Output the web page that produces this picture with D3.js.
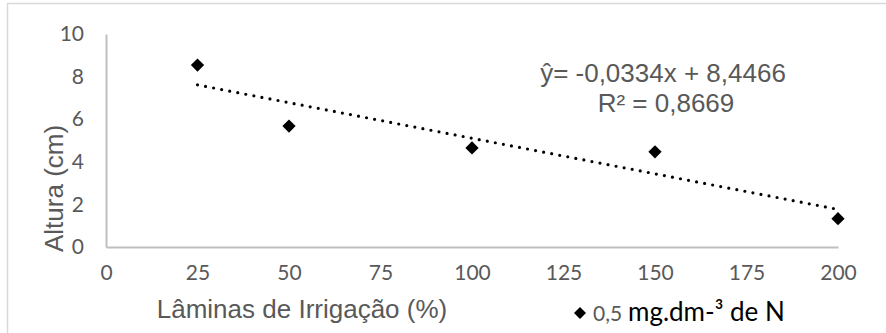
<!DOCTYPE html>
<html>
<head>
<meta charset="utf-8">
<script src="https://cdn.jsdelivr.net/npm/d3@7"></script>
<style>
  body { margin: 0; background: #fff; }
  svg { display: block; }
</style>
</head>
<body>
<div id="chart"></div>
<script>
// data
const laminas = [25, 50, 100, 150, 200];
const altura = [8.54, 5.68, 4.65, 4.47, 1.33];
const xTicks = [0, 25, 50, 75, 100, 125, 150, 175, 200];
const yTicks = [0, 2, 4, 6, 8, 10];
const trendSlope = -0.0334;
const trendIntercept = 8.4466;
const equationLines = ["ŷ= -0,0334x + 8,4466", "R² = 0,8669"];

const W = 886, H = 333;
const margin = { top: 34, right: 48, bottom: 86, left: 106 };
const width = W - margin.left - margin.right;
const height = H - margin.top - margin.bottom;

const svg = d3.select("#chart").append("svg")
    .attr("width", W)
    .attr("height", H);

// chart frame (only top and left edges visible in the crop)
svg.append("line").attr("x1", 7).attr("x2", W).attr("y1", 3.5).attr("y2", 3.5)
    .attr("stroke", "#d9d9d9").attr("stroke-width", 1.5);
svg.append("line").attr("x1", 7.5).attr("x2", 7.5).attr("y1", 3).attr("y2", H)
    .attr("stroke", "#d9d9d9").attr("stroke-width", 1.5);

const g = svg.append("g").attr("transform", `translate(${margin.left},${margin.top})`);

const x = d3.scaleLinear().domain([0, 200]).range([0, width]);
const y = d3.scaleLinear().domain([0, 10]).range([height, 0]);

// axes
const xAxis = g.append("g")
    .attr("transform", `translate(0,${height})`)
    .call(d3.axisBottom(x).tickValues(xTicks).tickSize(0).tickPadding(18));
const yAxis = g.append("g")
    .call(d3.axisLeft(y).tickValues(yTicks).tickSize(0).tickPadding(22));

[xAxis, yAxis].forEach(ax => {
    ax.select(".domain").attr("stroke", "#bfbfbf").attr("stroke-width", 2);
    ax.selectAll("text")
        .attr("fill", "#595959")
        .style("font-family", "Lato, sans-serif")
        .style("font-size", "21px");
});

// axis titles
svg.append("text")
    .attr("x", 302).attr("y", 318)
    .attr("text-anchor", "middle")
    .attr("fill", "#595959")
    .style("font-family", "'Liberation Sans', Arial, sans-serif")
    .style("font-size", "26px")
    .text("Lâminas de Irrigação (%)");

svg.append("text")
    .attr("transform", "translate(63,252) rotate(-90)")
    .attr("text-anchor", "start")
    .attr("fill", "#595959")
    .style("font-family", "'Liberation Sans', Arial, sans-serif")
    .style("font-size", "26px")
    .text("Altura (cm)");

// trend line
const trendX = [d3.min(laminas), d3.max(laminas)];
g.append("path")
    .datum(trendX)
    .attr("d", d3.line().x(d => x(d)).y(d => y(trendIntercept + trendSlope * d)))
    .attr("fill", "none")
    .attr("stroke", "#000")
    .attr("stroke-width", 3.2)
    .attr("stroke-linecap", "round")
    .attr("stroke-dasharray", "0 8.2");

// points
const diamond = d3.symbol().type(d3.symbolSquare).size(88);
g.selectAll("path.pt")
    .data(laminas.map((l, i) => ({ x: l, y: altura[i] })))
    .join("path")
    .attr("class", "pt")
    .attr("d", diamond)
    .attr("transform", d => `translate(${x(d.x)},${y(d.y)}) rotate(45)`)
    .attr("fill", "#000");

// equation
const eq = svg.append("text")
    .attr("text-anchor", "middle")
    .attr("fill", "#595959")
    .style("font-family", "'Liberation Sans', Arial, sans-serif")
    .style("font-size", "26px");
eq.selectAll("tspan")
    .data(equationLines)
    .join("tspan")
    .attr("x", (d, i) => i === 0 ? 663 : 666)
    .attr("y", (d, i) => 82 + i * 30)
    .text(d => d);

// legend
const legend = svg.append("g");
legend.append("path")
    .attr("d", d3.symbol().type(d3.symbolSquare).size(72))
    .attr("transform", "translate(580,313) rotate(45)")
    .attr("fill", "#000");
legend.append("text")
    .attr("x", 593).attr("y", 321)
    .attr("fill", "#595959")
    .style("font-family", "Lato, sans-serif")
    .style("font-size", "21px")
    .text("0,5");
legend.append("text")
    .attr("x", 628).attr("y", 321)
    .attr("fill", "#000")
    .style("font-family", "Lato, sans-serif")
    .style("font-size", "26px")
    .text("mg.dm-³ de N");
</script>
</body>
</html>
